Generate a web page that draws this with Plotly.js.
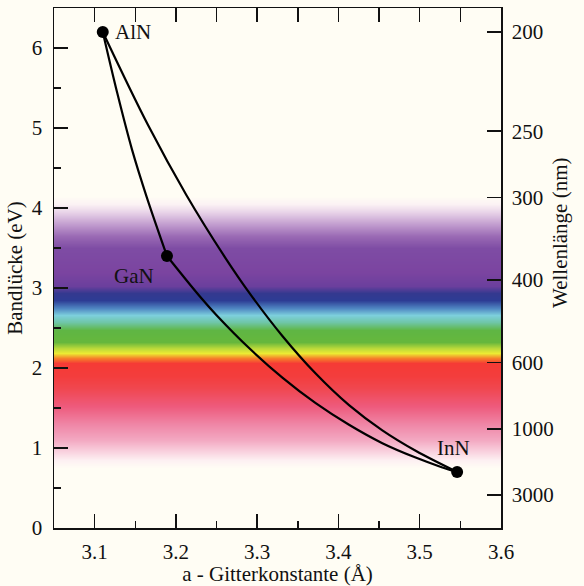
<!DOCTYPE html>
<html>
<head>
<meta charset="utf-8">
<script src="https://cdn.plot.ly/plotly-3.0.1.min.js"></script>
<style>html,body{margin:0;padding:0;background:#fffdf4;}</style>
</head>
<body>
<div id="chart" style="width:584px;height:586px;"></div>
<script>
// Compounds (end points)
const compounds = ['AlN', 'GaN', 'InN'];
const latticeA = [3.11, 3.189, 3.546];
const bandGap = [6.2, 3.4, 0.70];

// Connecting curves
const alnGanA = [3.11, 3.128, 3.146, 3.164, 3.189];
const alnGanE = [6.2, 5.43, 4.73, 4.14, 3.4];

const ganInnA = [3.189, 3.229, 3.25, 3.291, 3.331, 3.372, 3.413, 3.454, 3.495, 3.527, 3.546];
const ganInnE = [3.4, 2.90, 2.66, 2.24, 1.88, 1.56, 1.29, 1.06, 0.88, 0.76, 0.70];

const alnInnA = [3.11, 3.166, 3.213, 3.26, 3.291, 3.331, 3.372, 3.413, 3.454, 3.495, 3.546];
const alnInnE = [6.2, 5.03, 4.16, 3.39, 2.93, 2.40, 1.93, 1.535, 1.22, 0.965, 0.70];

// Right axis: wavelengths (nm)
const wavelengths = [200, 250, 300, 400, 600, 1000, 3000];
const hc = 1240; // eV*nm

// Spectrum band (energy stops and colours)
const bandE = [0.75, 0.85, 0.95, 1.10, 1.30, 1.52, 1.75, 1.90, 2.06, 2.13, 2.19, 2.25, 2.33, 2.48, 2.58, 2.66, 2.75, 2.85, 2.94, 3.02, 3.20, 3.50, 3.65, 3.80, 3.95, 4.05, 4.15];
const bandColors = ['#fffdf4', '#fdf0f2', '#f9d4e0', '#f3a9c2', '#ef86a6', '#ee5a7c', '#f0474f', '#f33d3d', '#f53b35', '#f6802a', '#eceb33', '#b9d83a', '#66b73c', '#5fb644', '#6fc6a8', '#7dcfdc', '#4f86c2', '#2d3c94', '#34398f', '#6b3f9d', '#7b44a0', '#7e4ca4', '#9a6ab4', '#c29dcf', '#e8d3e8', '#fbf2f4', '#fffdf4'];

const eMin = bandE[0], eMax = bandE[bandE.length - 1];
const colorscale = bandE.map((e, i) => [(e - eMin) / (eMax - eMin), bandColors[i]]);

const font = 'Liberation Serif, Times New Roman, serif';
const fs = 21;
const curveLine = {color: '#000', width: 2.2, shape: 'spline', smoothing: 1};

const traces = [
  {
    type: 'heatmap',
    x: [3.0, 3.65],
    y: bandE,
    z: bandE.map(e => [e, e]),
    zmin: eMin, zmax: eMax,
    colorscale: colorscale,
    zsmooth: 'best',
    showscale: false,
    hoverinfo: 'skip'
  },
  {type: 'scatter', mode: 'lines', x: alnGanA, y: alnGanE, line: curveLine, showlegend: false, hoverinfo: 'skip'},
  {type: 'scatter', mode: 'lines', x: ganInnA, y: ganInnE, line: curveLine, showlegend: false, hoverinfo: 'skip'},
  {type: 'scatter', mode: 'lines', x: alnInnA, y: alnInnE, line: curveLine, showlegend: false, hoverinfo: 'skip'},
  {type: 'scatter', mode: 'markers', x: latticeA, y: bandGap, text: compounds,
   marker: {color: '#000', size: 12}, showlegend: false},
  {type: 'scatter', mode: 'markers', x: latticeA, y: bandGap, xaxis: 'x2', yaxis: 'y2',
   marker: {opacity: 0}, showlegend: false, hoverinfo: 'skip'}
];

const axisCommon = {
  showline: true, linecolor: '#111', linewidth: 1.5,
  ticks: 'inside', tickcolor: '#111', tickwidth: 1.5,
  showgrid: false, zeroline: false,
  tickfont: {family: font, size: fs, color: '#111'}
};

const layout = {
  width: 584, height: 586,
  margin: {l: 54, r: 83, t: 8, b: 58},
  paper_bgcolor: '#fffdf4', plot_bgcolor: '#fffdf4',
  font: {family: font, size: fs, color: '#111'},
  showlegend: false,
  xaxis: Object.assign({}, axisCommon, {
    range: [3.05, 3.6], tickvals: [3.1, 3.2, 3.3, 3.4, 3.5, 3.6], ticktext: ['3.1','3.2','3.3','3.4','3.5','3.6'],
    ticklen: 14, ticklabelstandoff: 4,
    minor: {dtick: 0.05, ticks: 'inside', ticklen: 7, tickcolor: '#111', tickwidth: 1.5},
    title: {text: 'a - Gitterkonstante (Å)', font: {family: font, size: fs}, standoff: 3}
  }),
  yaxis: Object.assign({}, axisCommon, {
    range: [0, 6.5], dtick: 1, ticklen: 14, ticklabelstandoff: 6,
    minor: {dtick: 0.5, ticks: 'inside', ticklen: 7, tickcolor: '#111', tickwidth: 1.5},
    title: {text: 'Bandlücke (eV)', font: {family: font, size: fs}, standoff: 3}
  }),
  xaxis2: Object.assign({}, axisCommon, {
    overlaying: 'x', side: 'top', anchor: 'y2', range: [3.05, 3.6], dtick: 0.05, tick0: 3.1,
    ticklen: 14, showticklabels: false
  }),
  yaxis2: Object.assign({}, axisCommon, {
    overlaying: 'y', side: 'right', anchor: 'x2', range: [0, 6.5],
    tickvals: wavelengths.map(w => hc / w), ticktext: wavelengths.map(String),
    ticklen: 14, ticklabelstandoff: 5
  }),
  annotations: [
    {x: 3.123, y: 6.2, xref: 'x', yref: 'y', text: compounds[0], showarrow: false, xanchor: 'left', yanchor: 'middle', font: {family: font, size: fs, color: '#111'}},
    {x: 3.149, y: 3.15, xref: 'x', yref: 'y', text: compounds[1], showarrow: false, xanchor: 'center', yanchor: 'middle', font: {family: font, size: fs, color: '#111'}},
    {x: 3.542, y: 1.0, xref: 'x', yref: 'y', text: compounds[2], showarrow: false, xanchor: 'center', yanchor: 'middle', font: {family: font, size: fs, color: '#111'}},
    {x: 1, y: 0.5, xref: 'paper', yref: 'paper', text: 'Wellenlänge (nm)', showarrow: false, textangle: -90,
     xanchor: 'center', yanchor: 'middle', font: {family: font, size: fs, color: '#111'}}
  ]
};
// right title placed in pixel terms converted to paper coords
const pw = 584 - 54 - 83, ph = 586 - 8 - 58;
layout.annotations[3].x = (560 - 54) / pw;
layout.annotations[3].y = (586 - 58 - 233) / ph;

Plotly.newPlot('chart', traces, layout, {displayModeBar: false, staticPlot: true});
</script>
</body>
</html>
